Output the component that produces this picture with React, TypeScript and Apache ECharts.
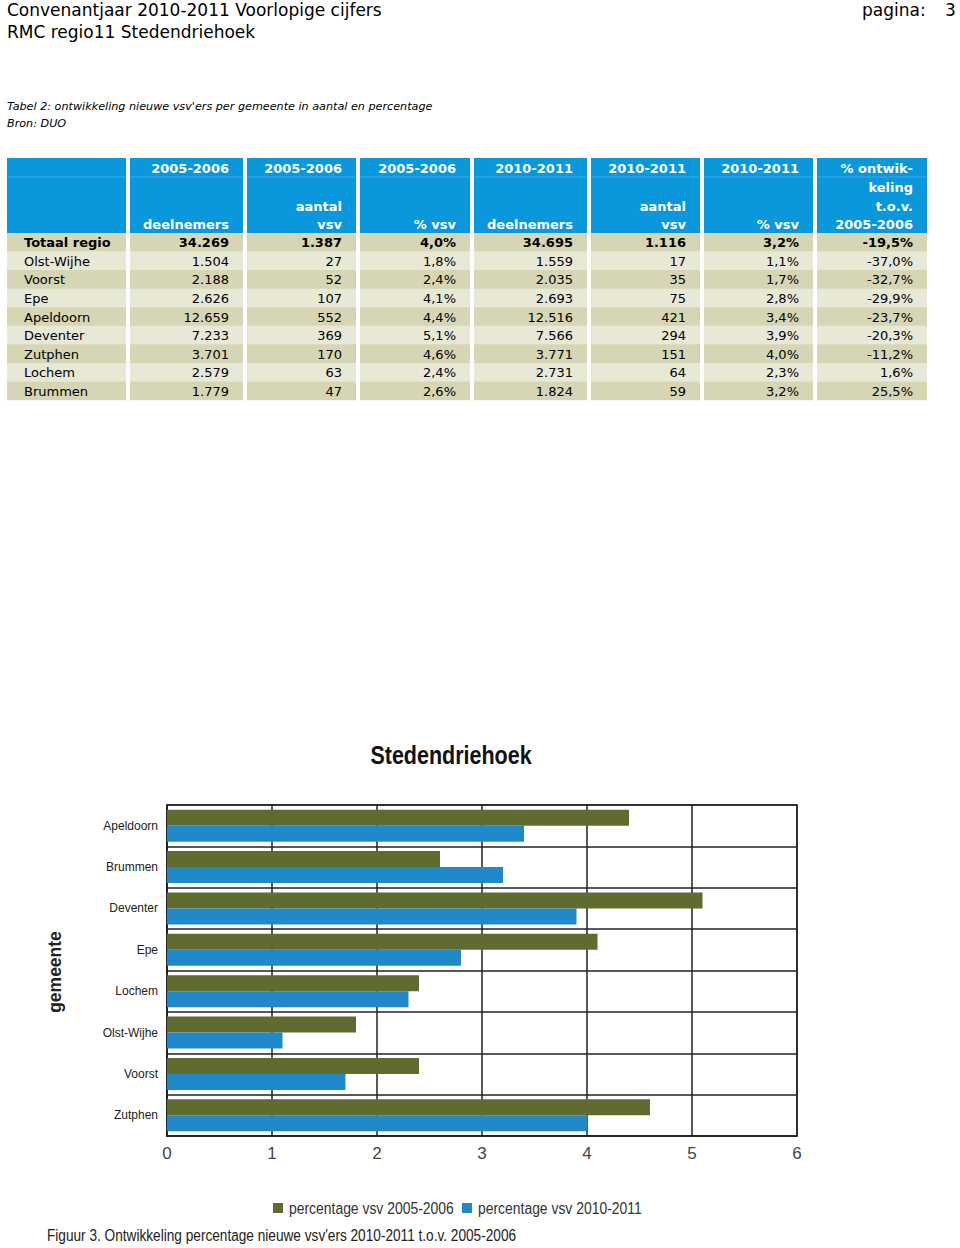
import React, { useEffect, useRef } from "react";
import * as echarts from "echarts";

// ---------- Table data ----------
const gemeenten = ["Olst-Wijhe", "Voorst", "Epe", "Apeldoorn", "Deventer", "Zutphen", "Lochem", "Brummen"];
const deelnemers0506 = [1504, 2188, 2626, 12659, 7233, 3701, 2579, 1779];
const aantalVsv0506 = [27, 52, 107, 552, 369, 170, 63, 47];
const pctVsv0506 = [1.8, 2.4, 4.1, 4.4, 5.1, 4.6, 2.4, 2.6];
const deelnemers1011 = [1559, 2035, 2693, 12516, 7566, 3771, 2731, 1824];
const aantalVsv1011 = [17, 35, 75, 421, 294, 151, 64, 59];
const pctVsv1011 = [1.1, 1.7, 2.8, 3.4, 3.9, 4.0, 2.3, 3.2];
const ontwikkeling = [-37.0, -32.7, -29.9, -23.7, -20.3, -11.2, 1.6, 25.5];
const totaal = { naam: "Totaal regio", d0506: 34269, a0506: 1387, p0506: 4.0, d1011: 34695, a1011: 1116, p1011: 3.2, ontw: -19.5 };

const headerLines = [
  ["", "", "", ""],
  ["2005-2006", "", "", "deelnemers"],
  ["2005-2006", "", "aantal", "vsv"],
  ["2005-2006", "", "", "% vsv"],
  ["2010-2011", "", "", "deelnemers"],
  ["2010-2011", "", "aantal", "vsv"],
  ["2010-2011", "", "", "% vsv"],
  ["% ontwik-", "keling", "t.o.v.", "2005-2006"],
];

// ---------- Chart data ----------
const chartCategories = ["Apeldoorn", "Brummen", "Deventer", "Epe", "Lochem", "Olst-Wijhe", "Voorst", "Zutphen"];
const chartPct0506 = [4.4, 2.6, 5.1, 4.1, 2.4, 1.8, 2.4, 4.6];
const chartPct1011 = [3.4, 3.2, 3.9, 2.8, 2.3, 1.1, 1.7, 4.0];
const xTicks = [0, 1, 2, 3, 4, 5, 6];
const seriesNames = ["percentage vsv 2005-2006", "percentage vsv 2010-2011"];
const seriesColors = ["#5f6b2f", "#1f89c9"];

const fmtInt = (n: number) => String(n).replace(/\B(?=(\d{3})+(?!\d))/g, ".");
const fmtPct = (v: number) => v.toFixed(1).replace(".", ",") + "%";

const VERDANA = "'DejaVu Sans', Verdana, sans-serif";
const SANS = "'Liberation Sans', Arial, sans-serif";
const NARROW_SCALE = 0.86;

export default function App() {
  const ref = useRef<HTMLDivElement>(null);
  useEffect(() => {
    if (!ref.current) return;
    const chart = echarts.init(ref.current, null, { renderer: "svg" });

    const cols = [[7, 126], [130, 243], [247, 356], [360, 470], [474, 587], [591, 700], [704, 813], [817, 927]];
    const headTop = 158, headBottom = 233, rowH = 18.56;
    const headY = [168, 187, 206, 224.5];
    const g: any[] = [];
    const txt = (x: number, y: number, text: string, o: any = {}, el: any = {}) =>
      g.push({ type: "text", x, y, silent: true, ...el, style: { text, fill: "#000", fontFamily: VERDANA, fontSize: 13, verticalAlign: "middle", align: "left", ...o } });

    // page header
    txt(7, 10, "Convenantjaar 2010-2011 Voorlopige cijfers", { fontSize: 17 });
    txt(7, 32, "RMC regio11 Stedendriehoek", { fontSize: 17 });
    txt(862, 10, "pagina:", { fontSize: 17 });
    txt(945, 10, "3", { fontSize: 17 });
    txt(7, 106, "Tabel 2: ontwikkeling nieuwe vsv'ers per gemeente in aantal en percentage", { fontSize: 11.2, fontStyle: "italic" });
    txt(7, 123, "Bron: DUO", { fontSize: 11.2, fontStyle: "italic" });

    // table header
    cols.forEach(([a, b], ci) => {
      g.push({ type: "rect", silent: true, shape: { x: a, y: headTop, width: b - a, height: headBottom - headTop }, style: { fill: "#0a97dc" } });
      g.push({ type: "rect", silent: true, shape: { x: a, y: 176.5, width: b - a, height: 1 }, style: { fill: "#38abe4" } });
      headerLines[ci].forEach((t, li) => {
        if (t) txt(b - 14, headY[li], t, { fill: "#fff", fontWeight: "bold", align: "right" });
      });
    });

    // table rows
    const rows: { vals: string[]; bold: boolean }[] = [
      { vals: [totaal.naam, fmtInt(totaal.d0506), fmtInt(totaal.a0506), fmtPct(totaal.p0506), fmtInt(totaal.d1011), fmtInt(totaal.a1011), fmtPct(totaal.p1011), fmtPct(totaal.ontw)], bold: true },
      ...gemeenten.map((n, i) => ({
        vals: [n, fmtInt(deelnemers0506[i]), fmtInt(aantalVsv0506[i]), fmtPct(pctVsv0506[i]), fmtInt(deelnemers1011[i]), fmtInt(aantalVsv1011[i]), fmtPct(pctVsv1011[i]), fmtPct(ontwikkeling[i])],
        bold: false,
      })),
    ];
    rows.forEach((r, ri) => {
      const top = headBottom + ri * rowH;
      const fill = ri % 2 === 0 ? "#d6d6b4" : "#e8e8d6";
      cols.forEach(([a, b], ci) => {
        g.push({ type: "rect", silent: true, shape: { x: a, y: top, width: b - a, height: rowH + 0.3 }, style: { fill } });
        const o: any = { fontWeight: r.bold ? "bold" : "normal" };
        if (ci === 0) txt(24, top + rowH / 2 + 0.5, r.vals[ci], o);
        else txt(b - 14, top + rowH / 2 + 0.5, r.vals[ci], { ...o, align: "right" });
      });
    });

    // chart texts (narrow look via horizontal scaling)
    txt(451, 755, "Stedendriehoek", { fontFamily: SANS, fontSize: 25, fontWeight: "bold", fill: "#111", align: "center" }, { scaleX: NARROW_SCALE });
    txt(55, 972, "gemeente", { fontFamily: SANS, fontWeight: "bold", fontSize: 17.5, fill: "#222", align: "center" }, { rotation: Math.PI / 2 });
    txt(47, 1236, "Figuur 3. Ontwikkeling percentage nieuwe vsv'ers 2010-2011 t.o.v. 2005-2006", { fontFamily: SANS, fontSize: 16, fill: "#222" }, { scaleX: 0.853 });

    // legend
    let lx = 273;
    seriesNames.forEach((name, i) => {
      g.push({ type: "rect", silent: true, shape: { x: lx, y: 1203, width: 10, height: 10 }, style: { fill: seriesColors[i] } });
      txt(lx + 16, 1208, name, { fontFamily: SANS, fontSize: 16, fill: "#333" }, { scaleX: 0.87 });
      lx = 462;
    });

    const option: any = {
      animation: false,
      grid: { left: 167, top: 805, width: 630, height: 331, show: true, borderColor: "#222", borderWidth: 1.5, containLabel: false },
      xAxis: {
        type: "value",
        min: xTicks[0],
        max: xTicks[xTicks.length - 1],
        interval: 1,
        axisLine: { show: true, lineStyle: { color: "#222", width: 1.5 } },
        axisTick: { show: false },
        splitLine: { show: true, lineStyle: { color: "#222", width: 1.5 } },
        axisLabel: { fontFamily: SANS, fontSize: 17, color: "#444", margin: 9 },
      },
      yAxis: {
        type: "category",
        data: chartCategories,
        inverse: true,
        axisLine: { show: true, lineStyle: { color: "#222", width: 1.5 } },
        axisTick: { show: false },
        splitLine: { show: true, lineStyle: { color: "#222", width: 1.5 } },
        axisLabel: { fontFamily: SANS, fontSize: 12, color: "#222", margin: 9 },
      },
      series: [
        { name: seriesNames[0], type: "bar", data: chartPct0506, barWidth: 16, barGap: "0%", itemStyle: { color: seriesColors[0] } },
        { name: seriesNames[1], type: "bar", data: chartPct1011, barWidth: 16, barGap: "0%", itemStyle: { color: seriesColors[1] } },
      ],
      graphic: g,
    };
    chart.setOption(option);
    return () => chart.dispose();
  }, []);
  return <div ref={ref} style={{ position: "absolute", left: 0, top: 0, width: 960, height: 1248, background: "#fff" }} />;
}
